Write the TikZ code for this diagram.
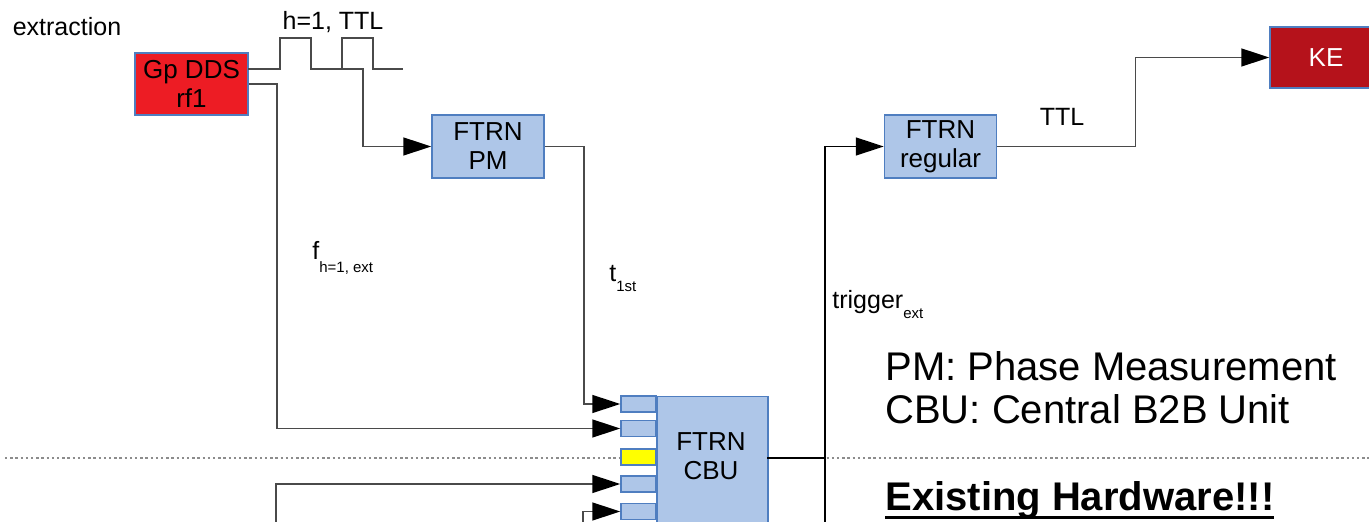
\documentclass[tikz,border=0pt]{standalone}
\usepackage{fontspec}
\setmainfont{Liberation Sans}
\usetikzlibrary{arrows.meta,positioning,calc}
\definecolor{ddsred}{HTML}{ED1C24}
\definecolor{kered}{HTML}{B5121B}
\definecolor{ftrn}{HTML}{AEC6E8}
\definecolor{edge}{HTML}{4F7EC0}
\definecolor{wirec}{HTML}{4A4A4A}
\definecolor{portyel}{HTML}{FFFF00}
\newcommand{\dsub}[2][5pt]{\raisebox{-#1}{\fontsize{7.5}{9}\selectfont #2}}
\newcommand{\hwul}[1]{\setbox0\hbox{#1}\rlap{\rule[-4pt]{\wd0}{1.5pt}}\box0}

\begin{document}
\begin{tikzpicture}[x=0.5pt, y=-0.5pt, font=\fontsize{12.5}{15}\selectfont,
 box/.style={draw=edge,line width=0.75pt,fill=ftrn,align=center,minimum width=56pt,minimum height=31.5pt,inner sep=0pt,font=\fontsize{13}{14.5}\selectfont},
 port/.style={draw=edge,line width=0.75pt,minimum width=17.5pt,minimum height=8pt,inner sep=0pt},
 wire/.style={draw=wirec,line width=0.75pt},
 arr/.style={wire,-{Triangle[length=14pt,width=9pt,black]}},
 sep/.style={draw=black!45,line width=1pt,dash pattern=on 1.2pt off 1.4pt},
 legend/.style={anchor=base west,inner sep=0pt,font=\fontsize{20}{24}\selectfont}]
\useasboundingbox (0,0) rectangle (1369,522);
\clip (0,0) rectangle (1369,522);
\draw[sep] (5,458) -- (1369,458);
% boxes
\node[box, fill=ddsred, minimum width=56.5pt, minimum height=31pt] (dds) at (191.5,84) {Gp DDS\\rf1};
\node[box] (pm) at (488,146.5) {FTRN\\PM};
\node[box] (reg) at (940.5,146.5) {FTRN\\regular};
\node[box, fill=kered, text=white, minimum height=30.5pt] (ke) at (1326,57.5) {KE};
\node[box, anchor=north west, minimum width=55.5pt, minimum height=82pt] (cbu) at (656,396) {};
\node[font=\fontsize{13}{14.5}\selectfont, align=center] (cbutxt) at (711,456) {FTRN\\CBU};
\foreach \n/\y/\c in {1/404/ftrn,2/428.5/ftrn,3/457/portyel,4/484/ftrn,5/511.5/ftrn}
  \node[port, fill=\c] (p\n) at (638.5,\y) {};
% free ends
\coordinate (ddsout) at (248,69);
\coordinate (tap) at (327,69);
\coordinate (lowA) at (276,540);
\coordinate (lowB) at (583,540);
\coordinate (cbuout) at (767,458);
\coordinate (trig) at (825,540);
% pulse train
\draw[wire] (ddsout) -- (280,69) -- (280,38) -- (311,38) -- (311,69) -- (342,69) -- (342,38) -- (373,38) -- (373,69) -- (403,69);
\draw[arr] (tap) -- (363,69) |- (pm.west);
\draw[arr] (dds.east) -- ++(28,0) |- (p2.west);
\draw[arr] (pm.east) -- ++(39,0) |- (p1.west);
\draw[arr] (lowA) |- (p4.west);
\draw[arr] (lowB) |- (p5.west);
\draw[wire, draw=black] (cbuout) -- (cbuout -| trig);
\draw[arr, draw=black] (trig) |- (reg.west);
\draw[arr] (reg.east) -- ++(138,0) |- (ke.west);
% labels
\node (extr) at (67,27) {extraction};
\node (htl) at (333,22) {h=1, TTL};
\node (ttl) at (1062,117) {TTL};
\node[anchor=base west, inner sep=0pt] (flab) at (312,260) {f\dsub[6.3pt]{h=1, ext}};
\node[anchor=base west, inner sep=0pt] (tlab) at (609,282) {t\dsub{1st}};
\node[anchor=base west, inner sep=0pt] (tglab) at (832,309) {trigger\dsub{ext}};
\node[legend] (lpm) at (885,381) {PM: Phase Measurement};
\node[legend] (lcbu) at (885,424) {CBU: Central B2B Unit};
\node[legend, font=\fontsize{20}{24}\selectfont\bfseries] (lhw) at (885,511) {\hwul{Existing Hardware!!!}};
\end{tikzpicture}
\end{document}
